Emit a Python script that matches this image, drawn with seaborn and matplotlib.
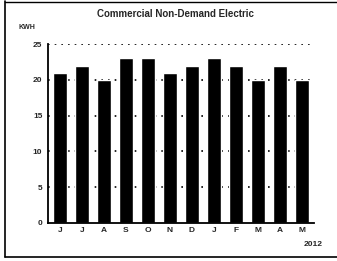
import matplotlib
matplotlib.use("Agg")
import matplotlib.pyplot as plt
import pandas as pd
import seaborn as sns
from matplotlib.lines import Line2D

# Chart data
months = ["J", "J", "A", "S", "O", "N", "D", "J", "F", "M", "A", "M"]
kwh = [21, 22, 20, 23, 23, 21, 22, 23, 22, 20, 22, 20]
y_ticks = [0, 5, 10, 15, 20, 25]

df = pd.DataFrame({"pos": range(len(months)), "kwh": kwh})

sns.set_style("white")
plt.rcParams["font.family"] = ["Liberation Sans", "DejaVu Sans"]

fig = plt.figure(figsize=(3.37, 2.61), dpi=100)
ax = fig.add_axes([0.142, 0.146, 0.79, 0.685])

sns.barplot(data=df, x="pos", y="kwh", color="black", width=0.6,
            saturation=1, ax=ax)

ax.set_ylim(0, 25)
ax.set_xlim(-0.55, len(months) - 0.45)
ax.set_yticks(y_ticks)
ax.set_yticklabels([str(t) for t in y_ticks], fontsize=6, fontweight="bold")
ax.set_xticks(range(len(months)))
ax.set_xticklabels(months, fontsize=6, fontweight="bold")
ax.tick_params(axis="x", length=0, pad=3)
ax.tick_params(axis="y", length=0, pad=4)

# minor ticks between bars
ax.set_xticks([i + 0.5 for i in range(-1, len(months))], minor=True)
ax.tick_params(axis="x", which="minor", length=3, width=1.2, color="black")

# dotted gridlines
for t in y_ticks[1:]:
    ax.axhline(t, color="black", linestyle=(0, (1, 3)), linewidth=1.2, zorder=0)

ax.set_xlabel("")
ax.set_ylabel("")
for side in ["top", "right"]:
    ax.spines[side].set_visible(False)
ax.spines["left"].set_linewidth(1.3)
ax.spines["bottom"].set_linewidth(1.3)
ax.spines["left"].set_color("black")
ax.spines["bottom"].set_color("black")

fig.text(0.52, 0.945, "Commercial Non-Demand Electric", ha="center", va="center",
         fontsize=7, fontweight="bold")
fig.text(0.055, 0.895, "KWH", ha="left", va="center", fontsize=5, fontweight="bold")
fig.text(0.93, 0.065, "2012", ha="center", va="center", fontsize=6, fontweight="bold")

# scanned frame around the chart
fig.add_artist(Line2D([0.015, 0.015], [0.015, 0.995], color="black", linewidth=1.2,
                      transform=fig.transFigure))
fig.add_artist(Line2D([0.015, 1.0], [0.015, 0.015], color="black", linewidth=1.2,
                      transform=fig.transFigure))
fig.add_artist(Line2D([0.015, 1.0], [0.993, 0.993], color="black", linewidth=1.0,
                      transform=fig.transFigure))

fig.savefig("out.png", dpi=100)
